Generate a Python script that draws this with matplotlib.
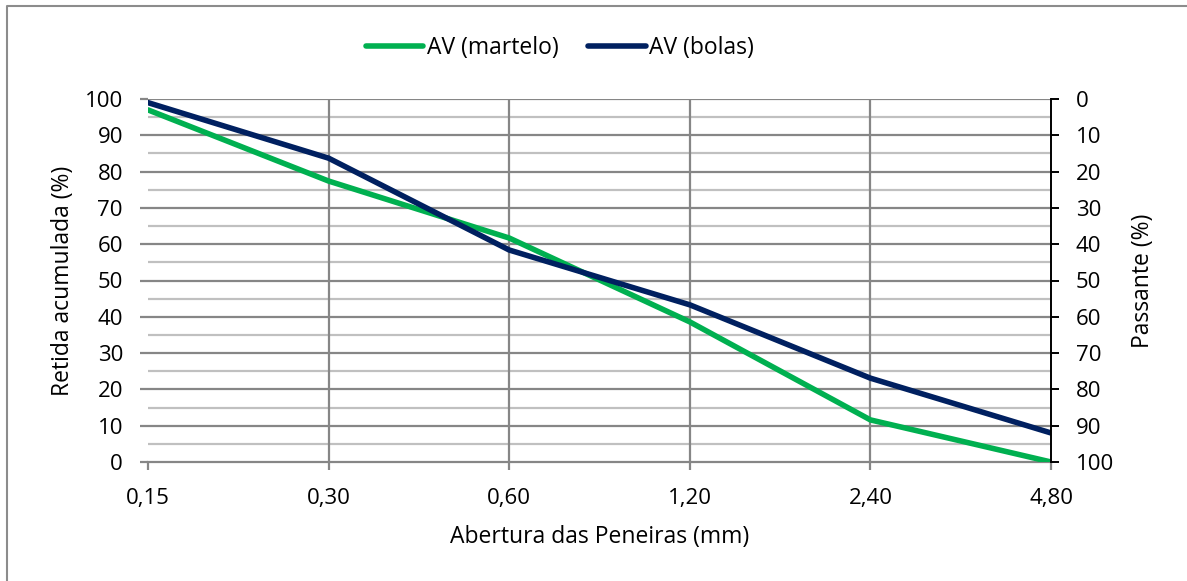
import matplotlib
matplotlib.use("Agg")
import matplotlib.pyplot as plt
from matplotlib.lines import Line2D

categories = ["0,15", "0,30", "0,60", "1,20", "2,40", "4,80"]
martelo = [97.0, 77.4, 61.7, 38.6, 11.6, 0.0]
bolas = [99.0, 83.7, 58.4, 43.3, 23.1, 8.0]
left_ticks = list(range(0, 101, 10))
right_ticks = list(range(0, 101, 10))

plt.rcParams['font.family'] = ['Open Sans', 'DejaVu Sans']
FT = 16.0   # tick labels
FL = 16.5   # legend
FA = 16.5   # axis titles

W, H = 1187, 581
L, R, T, B = 148, 1051, 99, 462
fig = plt.figure(figsize=(W/100, H/100), dpi=100)
ax = fig.add_axes([L/W, 1-B/H, (R-L)/W, (B-T)/H])

x = list(range(len(categories)))
ax.set_xlim(0, len(categories)-1)
ax.set_ylim(0, 100)

# gridlines
for v in range(5, 100, 10):
    ax.axhline(v, color='#C0C0C0', lw=1.6, zorder=1)
for v in range(10, 101, 10):
    ax.axhline(v, color='#868686', lw=1.6, zorder=1.5)
for xi in x[1:-1]:
    ax.axvline(xi, color='#868686', lw=1.6, zorder=1.5)

ax.plot(x, martelo, color='#00B050', lw=4, label='AV (martelo)', zorder=3, solid_capstyle='round')
ax.plot(x, bolas, color='#002060', lw=4, label='AV (bolas)', zorder=4, solid_capstyle='round')

ax.set_xticks(x)
ax.set_xticklabels(categories, fontsize=FT)
ax.set_yticks(left_ticks)
ax.set_yticklabels([str(t) for t in left_ticks], fontsize=FT)
ax.tick_params(axis='both', direction='out', length=6, width=1.6, color='#868686')
ax.tick_params(axis='y', pad=12)
ax.tick_params(axis='x', pad=13)
for s in ['top', 'right', 'left']:
    ax.spines[s].set_visible(False)
ax.spines['bottom'].set_color('#868686')
ax.spines['bottom'].set_linewidth(1.6)
ax.spines['bottom'].set_zorder(2)
ax.set_xlabel('Abertura das Peneiras (mm)', fontsize=FA)
ax.set_ylabel('Retida acumulada (%)', fontsize=FA)
ax.xaxis.set_label_coords(0.5, (B-537)/(B-T))
ax.xaxis.label.set_va('center')
ax.yaxis.set_label_coords((63-L)/(R-L), 0.5)
ax.yaxis.label.set_va('center')
ax.yaxis.label.set_ha('center')

ax2 = ax.twinx()
ax2.set_ylim(100, 0)
ax2.set_yticks(right_ticks)
ax2.set_yticklabels([str(t) for t in right_ticks], fontsize=FT)
ax2.tick_params(axis='y', direction='out', length=6, width=1.4, color='black', pad=12)
for s in ['top', 'left', 'bottom']:
    ax2.spines[s].set_visible(False)
ax2.spines['right'].set_color('black')
ax2.spines['right'].set_linewidth(1.4)
ax2.set_ylabel('Passante (%)', fontsize=FA)
ax2.yaxis.set_label_coords((1143-L)/(R-L), 0.5)
ax2.yaxis.label.set_va('center')
ax2.yaxis.label.set_ha('center')

leg = ax.legend(loc='center', bbox_to_anchor=(560/W, 1-48/H), bbox_transform=fig.transFigure,
                ncol=2, frameon=False, fontsize=FL, handlelength=2.5, handletextpad=0.15,
                columnspacing=1.3)

# outer frame
fig.add_artist(Line2D([7/W, 7/W, 1.0], [0, 1-6/H, 1-6/H], transform=fig.transFigure,
                      color='#8C8C8C', lw=1.5))

fig.savefig('out.png', dpi=100)
